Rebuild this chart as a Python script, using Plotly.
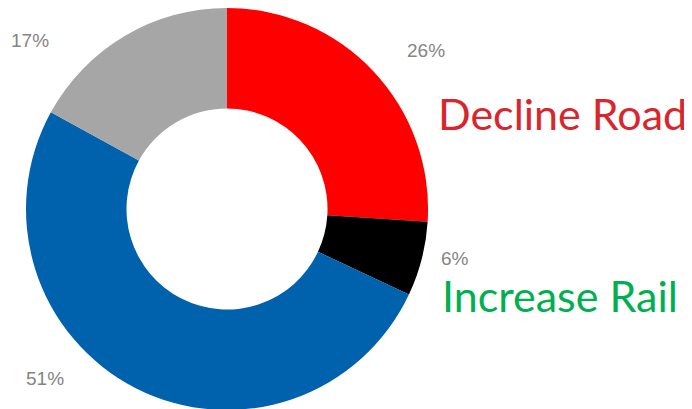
import plotly.graph_objects as go

categories = ["Decline Road", "Increase Rail", "Other", "No change"]
values = [26, 6, 51, 17]
colors = ["#FF0000", "#000000", "#0061AD", "#A6A6A6"]
label_pos = [(426, 51), (455, 258), (45, 378), (30, 41)]  # screen pixel centers for % labels

W, H = 692, 409
OFF = 8  # page body margin in the browser


def px_x(px):
    return (px - OFF) / W


def px_y(py):
    return 1 - (py - OFF) / H


fig = go.Figure(go.Pie(
    labels=categories,
    values=values,
    marker=dict(colors=colors, line=dict(width=0)),
    hole=0.5,
    sort=False,
    direction="clockwise",
    rotation=0,
    textinfo="none",
    hoverinfo="label+percent",
    domain=dict(x=[0.026, 0.607], y=[0.017, 1.0]),
    showlegend=False,
))

annotations = []
for v, (px, py) in zip(values, label_pos):
    annotations.append(dict(
        text=f"{v}%", x=px_x(px), y=px_y(py), xref="paper", yref="paper",
        xanchor="center", yanchor="middle", showarrow=False,
        font=dict(family="Liberation Sans, Arial, sans-serif", size=19, color="#858585"),
    ))

annotations.append(dict(
    text=categories[0], x=px_x(436), y=px_y(114), xref="paper", yref="paper",
    xanchor="left", yanchor="middle", showarrow=False,
    font=dict(family="Lato, sans-serif", size=43, color="#D9262C"),
))
annotations.append(dict(
    text=categories[1], x=px_x(440), y=px_y(295), xref="paper", yref="paper",
    xanchor="left", yanchor="middle", showarrow=False,
    font=dict(family="Lato, sans-serif", size=43, color="#00B050"),
))

fig.update_layout(
    width=W, height=H,
    margin=dict(l=0, r=0, t=0, b=0),
    paper_bgcolor="white", plot_bgcolor="white",
    annotations=annotations,
)

fig.write_html("out.html")
